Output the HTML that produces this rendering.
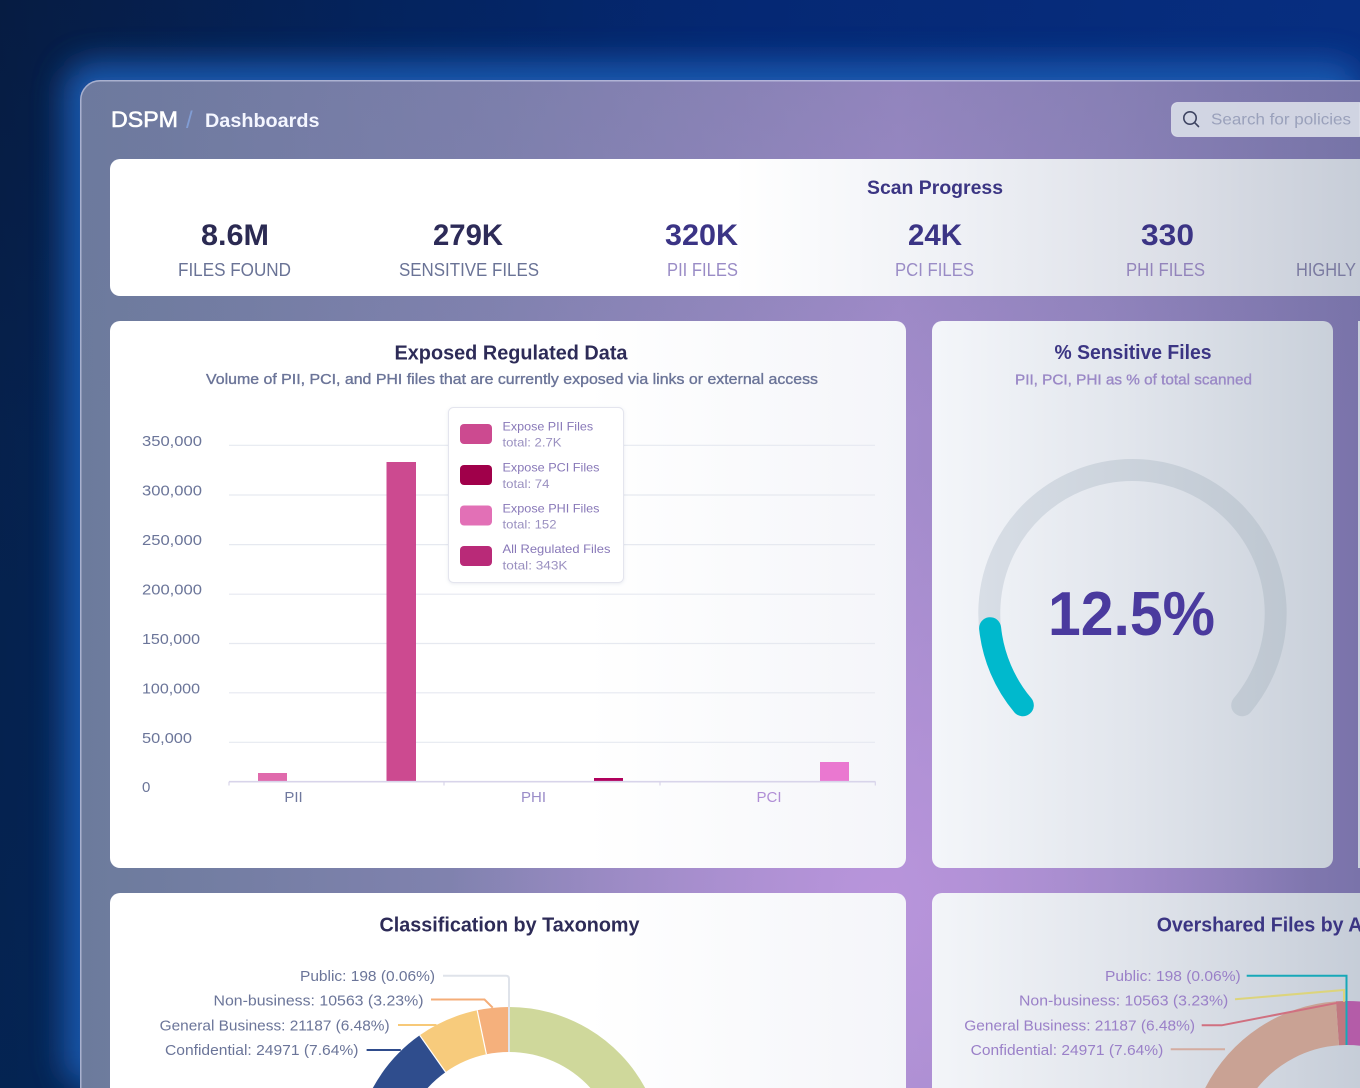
<!DOCTYPE html>
<html><head><meta charset="utf-8">
<style>
html,body{margin:0;padding:0;width:1360px;height:1088px;overflow:hidden;background:#03295f}
svg{display:block}
text{font-family:"Liberation Sans",Arial,sans-serif}
</style></head><body>
<svg width="1360" height="1088" viewBox="0 0 1360 1088" xmlns="http://www.w3.org/2000/svg">
<defs>
 <linearGradient id="bg" x1="0" y1="0" x2="1360" y2="0" gradientUnits="userSpaceOnUse">
  <stop offset="0" stop-color="#071d44"/>
  <stop offset="0.3" stop-color="#04276a"/>
  <stop offset="0.55" stop-color="#052d86"/>
  <stop offset="1" stop-color="#083597"/>
 </linearGradient>
 <linearGradient id="bgL" x1="0" y1="0" x2="0" y2="1088" gradientUnits="userSpaceOnUse">
  <stop offset="0" stop-color="#05193c" stop-opacity="0.25"/>
  <stop offset="0.4" stop-color="#022a60" stop-opacity="0.3"/>
  <stop offset="1" stop-color="#022a60" stop-opacity="0.5"/>
 </linearGradient>
 <filter id="blur" x="-20%" y="-20%" width="140%" height="140%"><feGaussianBlur stdDeviation="16"/></filter>
 <linearGradient id="panel" x1="80" y1="0" x2="1360" y2="0" gradientUnits="userSpaceOnUse">
  <stop offset="0" stop-color="#6c7b9c"/>
  <stop offset="0.33" stop-color="#8383b1"/>
  <stop offset="0.64" stop-color="#a48ccc"/>
  <stop offset="0.8" stop-color="#9585c0"/>
  <stop offset="1" stop-color="#7a73aa"/>
 </linearGradient>
 <radialGradient id="panelHi" cx="880" cy="900" r="430" gradientUnits="userSpaceOnUse">
  <stop offset="0" stop-color="#bc96de" stop-opacity="0.85"/>
  <stop offset="1" stop-color="#bc96de" stop-opacity="0"/>
 </radialGradient>
 <linearGradient id="panelTop" x1="0" y1="80" x2="0" y2="420" gradientUnits="userSpaceOnUse">
  <stop offset="0" stop-color="#6e76a0" stop-opacity="0.35"/>
  <stop offset="1" stop-color="#6e76a0" stop-opacity="0"/>
 </linearGradient>
 <linearGradient id="statsGrad" x1="110" y1="0" x2="1360" y2="0" gradientUnits="userSpaceOnUse">
  <stop offset="0" stop-color="#ffffff"/>
  <stop offset="0.5" stop-color="#ffffff"/>
  <stop offset="0.68" stop-color="#eef0f5"/>
  <stop offset="0.85" stop-color="#dcdfe7"/>
  <stop offset="1" stop-color="#c7cdd8"/>
 </linearGradient>
 <linearGradient id="chartGrad" x1="110" y1="0" x2="906" y2="0" gradientUnits="userSpaceOnUse">
  <stop offset="0" stop-color="#ffffff"/>
  <stop offset="0.6" stop-color="#ffffff"/>
  <stop offset="1" stop-color="#f4f5f9"/>
 </linearGradient>
 <linearGradient id="gaugeGrad" x1="932" y1="0" x2="1333" y2="0" gradientUnits="userSpaceOnUse">
  <stop offset="0" stop-color="#f4f6fa"/>
  <stop offset="0.5" stop-color="#e1e5ec"/>
  <stop offset="1" stop-color="#c9d0da"/>
 </linearGradient>
 <linearGradient id="brGrad" x1="932" y1="0" x2="1360" y2="0" gradientUnits="userSpaceOnUse">
  <stop offset="0" stop-color="#f3f5f9"/>
  <stop offset="0.5" stop-color="#dfe3ea"/>
  <stop offset="1" stop-color="#c6cdd8"/>
 </linearGradient>
 <linearGradient id="trackGrad" x1="978" y1="0" x2="1287" y2="0" gradientUnits="userSpaceOnUse">
  <stop offset="0" stop-color="#d8dee6"/>
  <stop offset="1" stop-color="#bec7d1"/>
 </linearGradient>
 <filter id="shadow" x="-10%" y="-10%" width="120%" height="120%"><feDropShadow dx="0" dy="1" stdDeviation="1.5" flood-color="#7080a0" flood-opacity="0.15"/></filter>
</defs>

<!-- outer background -->
<rect x="0" y="0" width="1360" height="1088" fill="url(#bg)"/>
<rect x="0" y="0" width="1360" height="1088" fill="url(#bgL)"/>
<!-- glow -->
<rect x="64" y="62" width="1296" height="1026" rx="28" fill="#1a5cb2" opacity="0.95" filter="url(#blur)"/>

<!-- panel -->
<path d="M80 1088 V100 A20 20 0 0 1 100 80 H1360 V1088 Z" fill="url(#panel)"/>
<path d="M80 1088 V100 A20 20 0 0 1 100 80 H1360 V1088 Z" fill="url(#panelHi)"/>
<path d="M80 1088 V100 A20 20 0 0 1 100 80 H1360 V1088 Z" fill="url(#panelTop)"/>
<path d="M80.75 1088 V100 A19.25 19.25 0 0 1 100 80.75 H1360" fill="none" stroke="#d0d6f0" stroke-opacity="0.6" stroke-width="1.5"/>

<!-- header -->
<text x="111" y="127" font-size="22.5" fill="#ffffff" stroke="#ffffff" stroke-width="0.6" textLength="67" lengthAdjust="spacingAndGlyphs">DSPM</text>
<text x="186" y="128" font-size="24" fill="#819dd4">/</text>
<text x="205" y="127" font-size="19.5" font-weight="bold" fill="#f4f6ff" textLength="114.5" lengthAdjust="spacingAndGlyphs">Dashboards</text>

<!-- search -->
<path d="M1360 102.5 H1177.5 A6 6 0 0 0 1171.5 108.5 V130.5 A6 6 0 0 0 1177.5 136.5 H1360 Z" fill="#d7dbe6" fill-opacity="0.93" stroke="#eef0f6" stroke-opacity="0.6"/>
<circle cx="1190" cy="118" r="6.2" fill="none" stroke="#3e4462" stroke-width="1.6"/>
<line x1="1194.6" y1="122.6" x2="1198.5" y2="126.5" stroke="#3e4462" stroke-width="1.6" stroke-linecap="round"/>
<text x="1211" y="124.5" font-size="16" fill="#9aa1bb" textLength="140" lengthAdjust="spacingAndGlyphs">Search for policies</text>

<!-- stats card -->
<path d="M110 169 A10 10 0 0 1 120 159 H1360 V296 H120 A10 10 0 0 1 110 286 Z" fill="url(#statsGrad)"/>
<text x="935" y="194" text-anchor="middle" font-size="19.5" font-weight="bold" fill="#3b3583" textLength="136" lengthAdjust="spacingAndGlyphs">Scan Progress</text>
<g font-size="30" font-weight="bold" text-anchor="middle">
 <text x="235" y="245" fill="#2b2a52" textLength="68" lengthAdjust="spacingAndGlyphs">8.6M</text>
 <text x="468" y="245" fill="#2d2b58" textLength="70" lengthAdjust="spacingAndGlyphs">279K</text>
 <text x="701.5" y="245" fill="#3b3485" textLength="73" lengthAdjust="spacingAndGlyphs">320K</text>
 <text x="935" y="245" fill="#3b3485" textLength="54" lengthAdjust="spacingAndGlyphs">24K</text>
 <text x="1167.5" y="245" fill="#3b3485" textLength="53" lengthAdjust="spacingAndGlyphs">330</text>
</g>
<g font-size="18.5" text-anchor="middle">
 <text x="234.5" y="276" fill="#6a7396" textLength="113" lengthAdjust="spacingAndGlyphs">FILES FOUND</text>
 <text x="469" y="276" fill="#6a7396" textLength="140" lengthAdjust="spacingAndGlyphs">SENSITIVE FILES</text>
 <text x="702.5" y="276" fill="#9a8cc6" textLength="71" lengthAdjust="spacingAndGlyphs">PII FILES</text>
 <text x="934.5" y="276" fill="#9a8cc6" textLength="79" lengthAdjust="spacingAndGlyphs">PCI FILES</text>
 <text x="1165.5" y="276" fill="#9384bb" textLength="79" lengthAdjust="spacingAndGlyphs">PHI FILES</text>
</g>
<text x="1296" y="276" font-size="18.5" fill="#7a7aa0" textLength="150" lengthAdjust="spacingAndGlyphs">HIGHLY SENSITIVE</text>

<!-- chart card -->
<rect x="110" y="321" width="796" height="547" rx="10" fill="url(#chartGrad)"/>
<text x="511" y="359.5" text-anchor="middle" font-size="20" font-weight="bold" fill="#2d2b57" textLength="233" lengthAdjust="spacingAndGlyphs">Exposed Regulated Data</text>
<text x="512" y="384" text-anchor="middle" font-size="15" fill="#6b7498" stroke="#6b7498" stroke-width="0.35" textLength="612" lengthAdjust="spacingAndGlyphs">Volume of PII, PCI, and PHI files that are currently exposed via links or external access</text>

<g stroke="#e6e9f0" stroke-width="1.2">
 <line x1="229" y1="445.3" x2="875" y2="445.3"/>
 <line x1="229" y1="495" x2="875" y2="495"/>
 <line x1="229" y1="544.6" x2="875" y2="544.6"/>
 <line x1="229" y1="594.2" x2="875" y2="594.2"/>
 <line x1="229" y1="643.5" x2="875" y2="643.5"/>
 <line x1="229" y1="692.8" x2="875" y2="692.8"/>
 <line x1="229" y1="742.3" x2="875" y2="742.3"/>
</g>
<g font-size="15" fill="#6b7599">
 <text x="142" y="446" textLength="60" lengthAdjust="spacingAndGlyphs">350,000</text>
 <text x="142" y="495.5" textLength="60" lengthAdjust="spacingAndGlyphs">300,000</text>
 <text x="142" y="545" textLength="60" lengthAdjust="spacingAndGlyphs">250,000</text>
 <text x="142" y="594.5" textLength="60" lengthAdjust="spacingAndGlyphs">200,000</text>
 <text x="142" y="644" textLength="58" lengthAdjust="spacingAndGlyphs">150,000</text>
 <text x="142" y="693.5" textLength="58" lengthAdjust="spacingAndGlyphs">100,000</text>
 <text x="142" y="743" textLength="50" lengthAdjust="spacingAndGlyphs">50,000</text>
 <text x="142" y="792">0</text>
</g>

<!-- bars -->
<rect x="258" y="773" width="29" height="8.7" fill="#e06aac"/>
<rect x="386.5" y="462" width="29.5" height="319.7" fill="#cc4a90"/>
<rect x="594" y="778" width="29" height="3.7" fill="#b0005c"/>
<rect x="820" y="762" width="29" height="19.7" fill="#ea78d0"/>

<line x1="229" y1="781.7" x2="875.5" y2="781.7" stroke="#d8d4ea" stroke-width="1.6"/>
<g stroke="#d8d4ea" stroke-width="1.2">
 <line x1="229" y1="781.7" x2="229" y2="785.5"/>
 <line x1="444" y1="781.7" x2="444" y2="785.5"/>
 <line x1="660" y1="781.7" x2="660" y2="785.5"/>
 <line x1="875.3" y1="781.7" x2="875.3" y2="785.5"/>
</g>
<g font-size="15" text-anchor="middle">
 <text x="293.5" y="802" fill="#6f789e">PII</text>
 <text x="533.5" y="802" fill="#9a8cc8">PHI</text>
 <text x="769" y="802" fill="#b08ed6">PCI</text>
</g>

<!-- legend -->
<rect x="448.5" y="407.5" width="175" height="175" rx="5" fill="#ffffff" stroke="#e4e5ee" filter="url(#shadow)"/>
<rect x="460" y="424" width="32" height="20" rx="4" fill="#cc4a90"/>
<rect x="460" y="465" width="32" height="20" rx="4" fill="#a0004a"/>
<rect x="460" y="505.5" width="32" height="20" rx="4" fill="#e270b6"/>
<rect x="460" y="546" width="32" height="20" rx="4" fill="#b92a78"/>
<g font-size="12">
 <text x="502.5" y="430.7" fill="#8878b8" textLength="90.6" lengthAdjust="spacingAndGlyphs">Expose PII Files</text>
 <text x="502.5" y="446.7" fill="#9a90c0" textLength="59" lengthAdjust="spacingAndGlyphs">total: 2.7K</text>
 <text x="502.5" y="471.7" fill="#8878b8" textLength="97" lengthAdjust="spacingAndGlyphs">Expose PCI Files</text>
 <text x="502.5" y="488" fill="#9a90c0" textLength="47" lengthAdjust="spacingAndGlyphs">total: 74</text>
 <text x="502.5" y="512.7" fill="#8878b8" textLength="97" lengthAdjust="spacingAndGlyphs">Expose PHI Files</text>
 <text x="502.5" y="528.7" fill="#9a90c0" textLength="54" lengthAdjust="spacingAndGlyphs">total: 152</text>
 <text x="502.5" y="553" fill="#8878b8" textLength="108" lengthAdjust="spacingAndGlyphs">All Regulated Files</text>
 <text x="502.5" y="569.7" fill="#9a90c0" textLength="65" lengthAdjust="spacingAndGlyphs">total: 343K</text>
</g>

<!-- gauge card -->
<rect x="932" y="321" width="401" height="547" rx="10" fill="url(#gaugeGrad)"/>
<text x="1133" y="359" text-anchor="middle" font-size="20" font-weight="bold" fill="#3b3583" textLength="157" lengthAdjust="spacingAndGlyphs">% Sensitive Files</text>
<text x="1133.5" y="384.5" text-anchor="middle" font-size="15" fill="#9a88c6" stroke="#9a88c6" stroke-width="0.35" textLength="237" lengthAdjust="spacingAndGlyphs">PII, PCI, PHI as % of total scanned</text>
<path d="M1022.8 705.25 A143.2 143.2 0 1 1 1242.2 705.25" fill="none" stroke="url(#trackGrad)" stroke-width="22" stroke-linecap="round"/>
<path d="M1022.8 705.25 A143.2 143.2 0 0 1 990.1 628.2" fill="none" stroke="#00b9cd" stroke-width="22" stroke-linecap="round"/>
<text x="1131.5" y="635" text-anchor="middle" font-size="62" font-weight="bold" fill="#4a3a9e" textLength="167" lengthAdjust="spacingAndGlyphs">12.5%</text>

<!-- right sliver card -->
<rect x="1358" y="321" width="2" height="547" fill="#cbd2dc"/>

<!-- bottom-left card -->
<path d="M110 1088 V903 A10 10 0 0 1 120 893 H896 A10 10 0 0 1 906 903 V1088 Z" fill="url(#chartGrad)"/>
<text x="509.5" y="931.7" text-anchor="middle" font-size="20" font-weight="bold" fill="#2d2b57" textLength="260" lengthAdjust="spacingAndGlyphs">Classification by Taxonomy</text>

<path d="M509 1007 A155 155 0 0 1 645.2 1088 H590.4 A110 110 0 0 0 509 1052 Z" fill="#cfd89b"/>
<path d="M508.4 1007 A155 155 0 0 0 477.2 1010.3 L486.4 1054.3 A110 110 0 0 1 508.6 1052 Z" fill="#f5b07c"/>
<path d="M477.2 1010.3 A155 155 0 0 0 419.7 1035.3 L445.6 1072.1 A110 110 0 0 1 486.4 1054.3 Z" fill="#f7cb7c"/>
<path d="M419.7 1035.3 A155 155 0 0 0 372.8 1088 H427.6 A110 110 0 0 1 445.6 1072.1 Z" fill="#2f4d8d"/>
<g stroke="#ffffff" stroke-width="1.2">
 <line x1="486.4" y1="1054.3" x2="477.2" y2="1010.3"/>
 <line x1="445.6" y1="1072.1" x2="419.7" y2="1035.3"/>
</g>
<g fill="none" stroke-width="2">
 <path d="M443 975.7 H506 Q509 975.7 509 979 V1052" stroke="#dfe3ea"/>
 <path d="M431 999.5 H484.5 L492.7 1007.7" stroke="#f4ad78"/>
 <path d="M398 1025 H436.5" stroke="#f7c978"/>
 <path d="M366.6 1050 H400.8" stroke="#2f4c8c"/>
</g>
<g font-size="15" fill="#6b7599" text-anchor="end">
 <text x="435" y="981" textLength="135" lengthAdjust="spacingAndGlyphs">Public: 198 (0.06%)</text>
 <text x="423.5" y="1005.7" textLength="210" lengthAdjust="spacingAndGlyphs">Non-business: 10563 (3.23%)</text>
 <text x="389.6" y="1030.7" textLength="230" lengthAdjust="spacingAndGlyphs">General Business: 21187 (6.48%)</text>
 <text x="358.5" y="1055" textLength="193.5" lengthAdjust="spacingAndGlyphs">Confidential: 24971 (7.64%)</text>
</g>

<!-- bottom-right card -->
<path d="M932 1088 V903 A10 10 0 0 1 942 893 H1360 V1088 Z" fill="url(#brGrad)"/>
<text x="1156.7" y="931.7" font-size="20" font-weight="bold" fill="#3b3583" textLength="260" lengthAdjust="spacingAndGlyphs">Overshared Files by Access</text>

<path d="M1347 1001 A159 159 0 0 1 1360 1001.5 V1045.7 A115 115 0 0 0 1347 1045 Z" fill="#b45ca8"/>
<path d="M1346.2 1001 A159 159 0 0 0 1335.9 1001.4 L1339 1045.3 A115 115 0 0 1 1346.4 1045 Z" fill="#c07880"/>
<path d="M1335.9 1001.4 A159 159 0 0 0 1205.2 1088 H1257.3 A115 115 0 0 1 1339 1045.3 Z" fill="#c9a294"/>
<g fill="none" stroke-width="2">
 <path d="M1246.7 975.7 H1346.5 V1045" stroke="#17a8b8"/>
 <path d="M1235 999.3 L1344 990 V1001.7" stroke="#dcd47c"/>
 <path d="M1201.7 1025.3 H1221.7 L1338.3 1002.7" stroke="#d07080"/>
 <path d="M1170.7 1049.3 H1225" stroke="#d4aca0"/>
</g>
<g font-size="15" fill="#9a80c8" text-anchor="end">
 <text x="1240.7" y="981" textLength="135.7" lengthAdjust="spacingAndGlyphs">Public: 198 (0.06%)</text>
 <text x="1228.3" y="1005.7" textLength="209.3" lengthAdjust="spacingAndGlyphs">Non-business: 10563 (3.23%)</text>
 <text x="1195" y="1030.7" textLength="230.7" lengthAdjust="spacingAndGlyphs">General Business: 21187 (6.48%)</text>
 <text x="1163.3" y="1055" textLength="192.6" lengthAdjust="spacingAndGlyphs">Confidential: 24971 (7.64%)</text>
</g>
</svg>
</body></html>
